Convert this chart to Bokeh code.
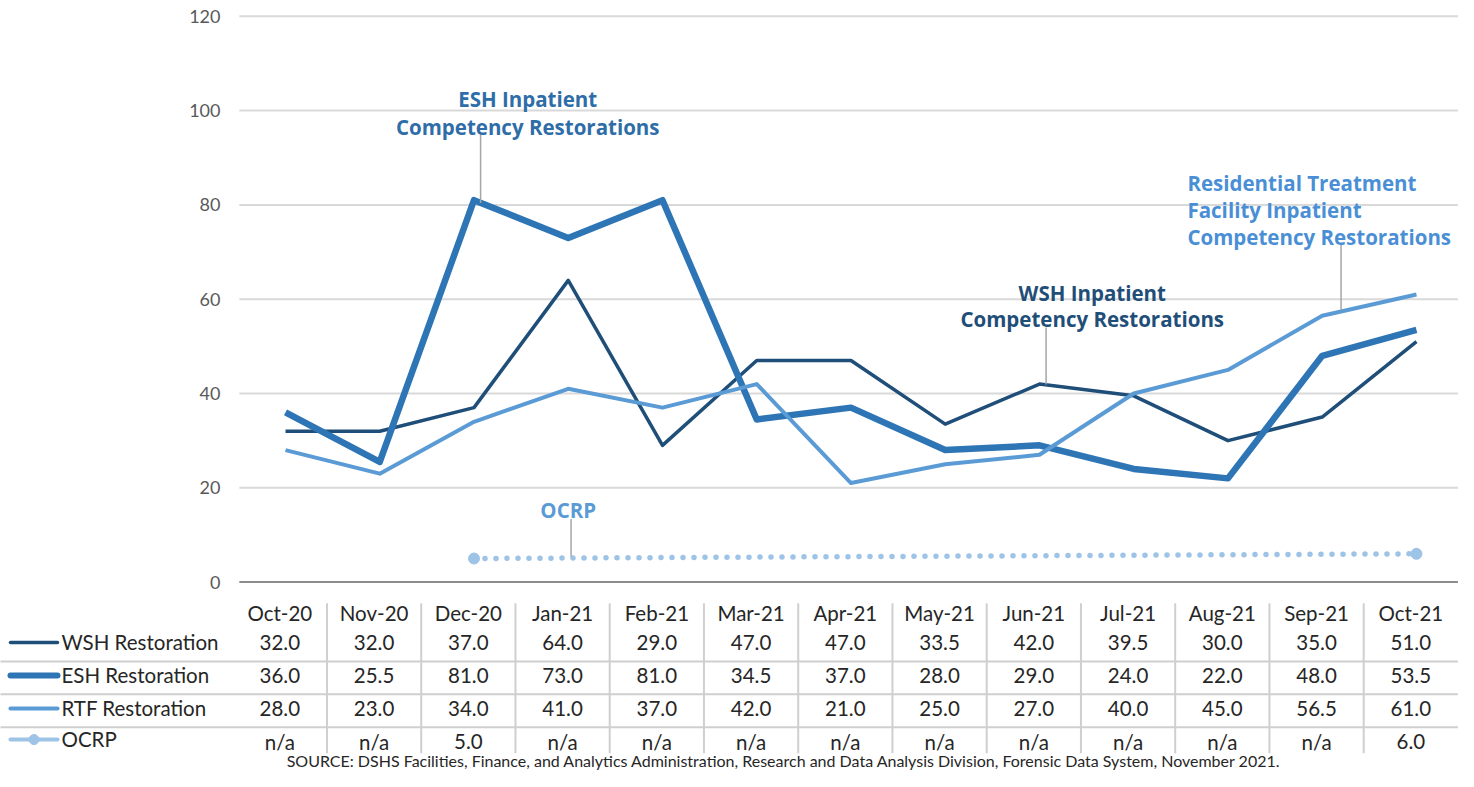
import math
from bokeh.plotting import figure
from bokeh.models import Range1d
from bokeh.core.properties import value
from bokeh.embed import file_html
from bokeh.resources import INLINE

# ---------------- data ----------------
months = ["Oct-20", "Nov-20", "Dec-20", "Jan-21", "Feb-21", "Mar-21", "Apr-21",
          "May-21", "Jun-21", "Jul-21", "Aug-21", "Sep-21", "Oct-21"]
wsh = [32.0, 32.0, 37.0, 64.0, 29.0, 47.0, 47.0, 33.5, 42.0, 39.5, 30.0, 35.0, 51.0]
esh = [36.0, 25.5, 81.0, 73.0, 81.0, 34.5, 37.0, 28.0, 29.0, 24.0, 22.0, 48.0, 53.5]
rtf = [28.0, 23.0, 34.0, 41.0, 37.0, 42.0, 21.0, 25.0, 27.0, 40.0, 45.0, 56.5, 61.0]
nan = float("nan")
ocrp = [nan, nan, 5.0, nan, nan, nan, nan, nan, nan, nan, nan, nan, 6.0]
series_names = ["WSH Restoration", "ESH Restoration", "RTF Restoration", "OCRP"]
yticks = [0, 20, 40, 60, 80, 100, 120]
source_note = ("SOURCE: DSHS Facilities, Finance, and Analytics Administration, Research and "
               "Data Analysis Division, Forensic Data System, November 2021.")

# ---------------- style ----------------
C_WSH = "#1f4e79"
C_ESH = "#2e75b6"
C_RTF = "#5b9bd5"
C_OCRP = "#9dc3e6"
FONT = value("Lato")
AFONT = value("Open Sans")
GRID = "#d9d9d9"
TXT = "#262626"

x = list(range(len(months)))

p = figure(width=1458, height=771, output_backend="svg", toolbar_location=None,
           x_range=Range1d(-3.024, 12.446), y_range=Range1d(-40.17, 123.35),
           x_axis_type=None, y_axis_type=None, min_border=0,
           outline_line_color=None)
p.xgrid.visible = False
p.ygrid.visible = False

# gridlines and axis line
gx0, gx1 = -0.49, 12.44
p.segment(x0=[gx0] * (len(yticks) - 1), y0=yticks[1:], x1=[gx1] * (len(yticks) - 1),
          y1=yticks[1:], line_color=GRID, line_width=2)
p.segment(x0=[gx0], y0=[0], x1=[gx1], y1=[0], line_color="#8c8c8c", line_width=2)
p.text(x=[-0.69] * len(yticks), y=yticks, text=[str(t) for t in yticks],
       text_align="right", text_baseline="middle", text_font=FONT,
       text_font_size="18px", text_color="#595959")

# series lines
p.line(x, wsh, line_color=C_WSH, line_width=3.5, line_join="round")
p.line(x, esh, line_color=C_ESH, line_width=6.5, line_join="round")
p.line(x, rtf, line_color=C_RTF, line_width=4, line_join="round")
ox = [i for i, v in zip(x, ocrp) if not math.isnan(v)]
oy = [v for v in ocrp if not math.isnan(v)]
p.line(ox, oy, line_color=C_OCRP, line_width=5.5, line_dash="0 11", line_cap="round")
p.scatter(ox, oy, size=11, marker="circle", fill_color=C_OCRP, line_color=C_OCRP)

# annotation labels with leader lines
LEAD = "#a6a6a6"
# ESH
p.segment(x0=[2.07], y0=[95.3], x1=[2.07], y1=[esh[2] - 0.6], line_color=LEAD, line_width=1.5)
p.text(x=[2.57, 2.57], y=[102.4, 96.5], text=["ESH Inpatient", "Competency Restorations"],
       text_align="center", text_baseline="middle", text_font=AFONT, text_font_style="bold",
       text_font_size="20.5px", text_color="#2e6da8")
# WSH
p.segment(x0=[8.07], y0=[54.0], x1=[8.07], y1=[wsh[8] - 0.1], line_color=LEAD, line_width=1.5)
p.text(x=[8.56, 8.56], y=[61.4, 55.8], text=["WSH Inpatient", "Competency Restorations"],
       text_align="center", text_baseline="middle", text_font=AFONT, text_font_style="bold",
       text_font_size="20.5px", text_color=C_WSH)
# RTF
p.segment(x0=[11.2], y0=[71.8], x1=[11.2], y1=[rtf[11] + 0.2 * (rtf[12] - rtf[11]) + 0.3],
          line_color=LEAD, line_width=1.5)
p.text(x=[9.57] * 3, y=[84.6, 78.9, 73.1],
       text=["Residential Treatment", "Facility Inpatient", "Competency Restorations"],
       text_align="left", text_baseline="middle", text_font=AFONT, text_font_style="bold",
       text_font_size="20.5px", text_color="#4a8fd6")
# OCRP
p.segment(x0=[3.03], y0=[13.4], x1=[3.03], y1=[5.4], line_color=LEAD, line_width=1.5)
p.text(x=[3.0], y=[15.2], text=["OCRP"], text_align="center", text_baseline="middle",
       text_font=AFONT, text_font_style="bold", text_font_size="20.5px", text_color=C_RTF)

# ---------------- data table ----------------
tx = [i - 0.06 for i in x]
row_y = [-12.8, -19.8, -26.8, -33.9]
p.text(x=tx, y=[-6.45] * len(months), text=months, text_align="center", text_baseline="middle",
       text_font=FONT, text_font_size="20.5px", text_color=TXT)
for vals, ry in zip([wsh, esh, rtf, ocrp], row_y):
    labels = ["n/a" if math.isnan(v) else f"{v:.1f}" for v in vals]
    p.text(x=tx, y=[ry] * len(vals), text=labels, text_align="center", text_baseline="middle",
           text_font=FONT, text_font_size="20.5px", text_color=TXT)

# row separators
sep_y = [-16.84, -23.8, -30.8]
p.segment(x0=[-3.1] * 3, y0=sep_y, x1=[12.44] * 3, y1=sep_y, line_color="#cfcfcf", line_width=2)
# column separators
vx = [i + 0.44 for i in x[:-1]]
p.segment(x0=vx, y0=[-4.5] * len(vx), x1=vx, y1=[-36.3] * len(vx), line_color="#cfcfcf",
          line_width=2)

# legend keys
kx0, kx1, ltx = -2.918, -2.419, -2.377
p.segment(x0=[kx0], y0=[row_y[0]], x1=[kx1], y1=[row_y[0]], line_color=C_WSH, line_width=3.5,
          line_cap="round")
p.segment(x0=[kx0], y0=[row_y[1]], x1=[kx1], y1=[row_y[1]], line_color=C_ESH, line_width=6,
          line_cap="round")
p.segment(x0=[kx0], y0=[row_y[2]], x1=[kx1], y1=[row_y[2]], line_color=C_RTF, line_width=4,
          line_cap="round")
p.segment(x0=[kx0], y0=[row_y[3] + 0.5], x1=[kx1], y1=[row_y[3] + 0.5], line_color=C_OCRP,
          line_width=4, line_cap="round")
p.scatter([(kx0 + kx1) / 2], [row_y[3] + 0.5], size=10, marker="circle", fill_color=C_OCRP,
          line_color=C_OCRP)
p.text(x=[ltx] * 4, y=[row_y[0], row_y[1], row_y[2], row_y[3] + 0.7], text=series_names,
       text_align="left", text_baseline="middle", text_font=FONT, text_font_size="20.5px",
       text_color=TXT)

# source
p.text(x=[5.29], y=[-37.9], text=[source_note], text_align="center", text_baseline="middle",
       text_font=FONT, text_font_size="16px", text_color=TXT)

open("out.html", "w").write(file_html(p, INLINE))
